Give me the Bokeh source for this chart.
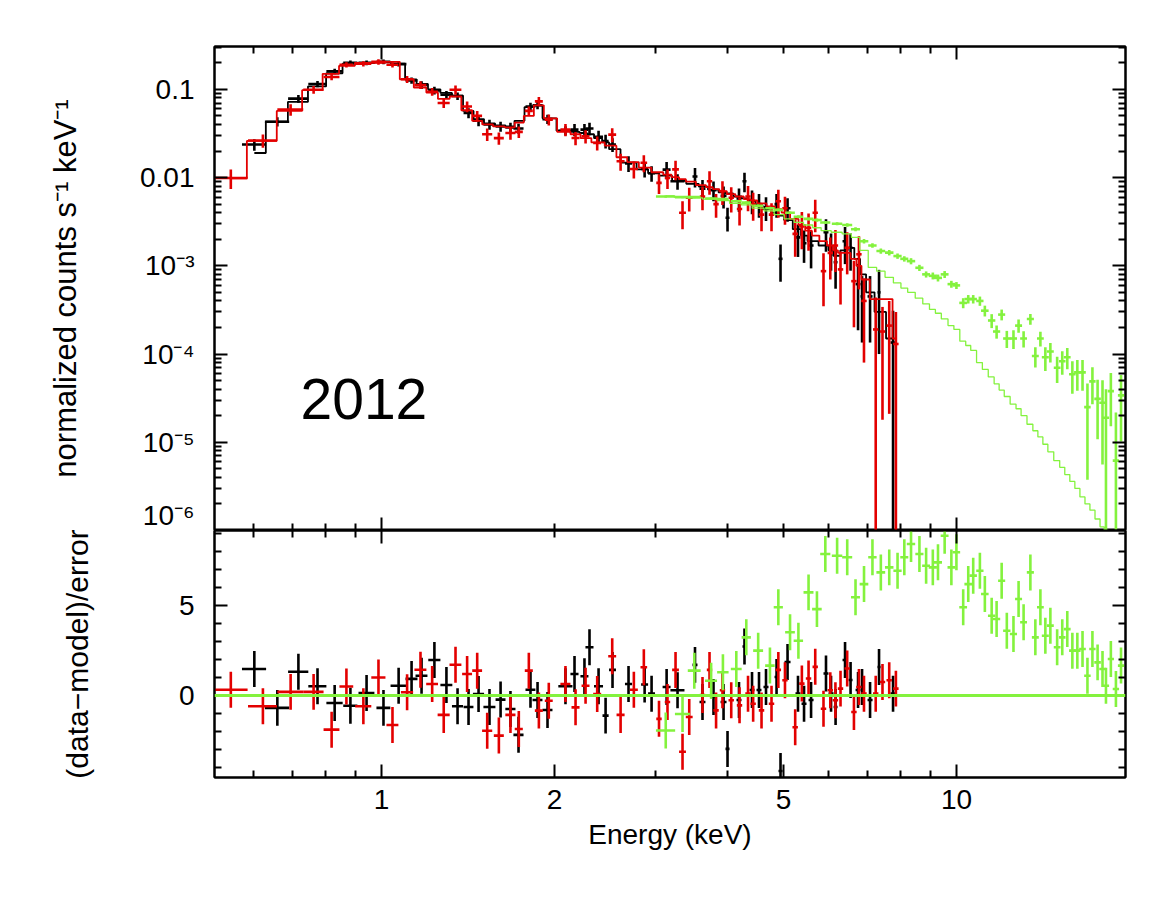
import numpy as np
from bokeh.plotting import figure
from bokeh.models import (Range1d, LogAxis, LinearAxis, FixedTicker, Span,
                          ColumnDataSource)
from bokeh.layouts import column
from bokeh.embed import file_html
from bokeh.resources import INLINE
from bokeh.core.properties import value

# ---------------- axis limits / ticks ----------------
X_MIN, X_MAX = 0.5124, 19.67
TOP_Y_MIN, TOP_Y_MAX = 1e-6, 0.306
RES_MIN, RES_MAX = -4.56, 9.17

X_MAJOR = [1, 2, 5, 10]
X_LABELS = ["1", "2", "5", "10"]
X_MINOR = [0.6, 0.7, 0.8, 0.9, 3, 4, 6, 7, 8, 9]
X_DECADES = [1, 10]
X_SUBTICKS = [0.6, 0.7, 0.8, 0.9, 2, 3, 4, 5, 6, 7, 8, 9]
Y_MAJOR = [1e-6, 1e-5, 1e-4, 1e-3, 1e-2, 1e-1]
Y_LABELS = ["10\u207b\u2076", "10\u207b\u2075", "10\u207b\u2074", "10\u207b\u00b3", "0.01", "0.1"]
Y_MINOR = [k * 10.0 ** n for n in range(-6, 0) for k in range(2, 10) if k * 10.0 ** n <= TOP_Y_MAX]
R_MAJOR = [0, 5]
R_LABELS = ["0", "5"]
R_MINOR = [-4, -3, -2, -1, 1, 2, 3, 4, 6, 7, 8, 9]

TITLE_Y = "normalized counts s\u207b\u00b9 keV\u207b\u00b9"
TITLE_R = "(data\u2212model)/error"
TITLE_X = "Energy (keV)"
YEAR_TEXT = "2012"
YEAR_POS = (0.723, 3.1e-5)

# ---------------- black data set ----------------
BLACK_E = [0.601, 0.659, 0.717, 0.774, 0.829, 0.883, 0.942, 1.008, 1.071, 1.128,
           1.174, 1.236, 1.297, 1.356, 1.417, 1.475, 1.541, 1.611, 1.676, 1.731,
           1.816, 1.868, 1.944, 2.089, 2.166, 2.254, 2.300, 2.385, 2.453, 2.522,
           2.689, 2.868, 2.949, 3.132, 3.272, 3.509, 3.616, 3.779, 3.934, 3.997,
           4.185, 4.278, 4.409, 4.534, 4.663, 4.864, 4.942, 5.083, 5.300, 5.430,
           5.585, 5.929, 6.050, 6.161, 6.399, 6.542, 6.741, 6.850, 7.073, 7.332, 7.755]
BLACK_DE = [0.029, 0.032, 0.029, 0.028, 0.027, 0.025, 0.030, 0.028, 0.034, 0.027,
            0.028, 0.030, 0.031, 0.030, 0.028, 0.033, 0.037, 0.032, 0.034, 0.035,
            0.036, 0.037, 0.039, 0.059, 0.035, 0.036, 0.037, 0.043, 0.030, 0.035,
            0.038, 0.040, 0.041, 0.050, 0.092, 0.035, 0.043, 0.045, 0.047, 0.032,
            0.042, 0.034, 0.044, 0.045, 0.047, 0.039, 0.040, 0.061, 0.053, 0.054,
            0.056, 0.059, 0.061, 0.049, 0.064, 0.052, 0.067, 0.041, 0.071, 0.044, 0.078]
BLACK_FLUX = [0.0237, 0.043, 0.0785, 0.115, 0.160, 0.200, 0.200, 0.205, 0.193, 0.126,
              0.112, 0.097, 0.087, 0.084, 0.054, 0.044, 0.040, 0.038, 0.037, 0.036,
              0.064, 0.066, 0.046, 0.034, 0.035, 0.035, 0.036, 0.029, 0.026, 0.0237,
              0.0145, 0.0125, 0.0112, 0.0123, 0.0091, 0.0103, 0.0075, 0.0072, 0.0062, 0.0035,
              0.0058, 0.0091, 0.0055, 0.0050, 0.0046, 0.0050, 0.0012, 0.0045, 0.0021, 0.0018,
              0.0017, 0.0024, 0.0016, 0.0011, 0.0019, 0.0016, 0.00062, 0.00045, 0.00045, 0.0005, 0.000135]
BLACK_REL = [0.15, 0.12, 0.10, 0.08, 0.07, 0.06, 0.06, 0.06, 0.06, 0.08,
             0.10, 0.10, 0.10, 0.10, 0.13, 0.13, 0.13, 0.13, 0.13, 0.13,
             0.10, 0.10, 0.12, 0.12, 0.16, 0.16, 0.16, 0.17, 0.18, 0.18,
             0.20, 0.20, 0.20, 0.22, 0.20, 0.25, 0.25, 0.25, 0.28, 0.30,
             0.30, 0.25, 0.30, 0.30, 0.30, 0.30, 0.45, 0.30, 0.40, 0.40,
             0.45, 0.40, 0.45, 0.50, 0.45, 0.45, 0.70, 0.70, 0.70, 0.80, 1.30]
BLACK_MODEL = [0.019, 0.043, 0.072, 0.108, 0.152, 0.195, 0.200, 0.205, 0.195, 0.130,
               0.115, 0.100, 0.091, 0.085, 0.057, 0.046, 0.041, 0.039, 0.038, 0.044,
               0.063, 0.066, 0.047, 0.034, 0.033, 0.032, 0.031, 0.028, 0.025, 0.021,
               0.0148, 0.0124, 0.0112, 0.0105, 0.0092, 0.0085, 0.0079, 0.0073, 0.0068, 0.0066,
               0.0061, 0.0058, 0.0054, 0.0049, 0.0044, 0.0040, 0.0037, 0.0033, 0.0026, 0.0022,
               0.0019, 0.0017, 0.0015, 0.0013, 0.0015, 0.0016, 0.0012, 0.0008, 0.0005, 0.0003, 0.00015]
BLACK_RES = [1.47, -0.69, 1.32, 0.51, -0.42, -0.57, 0.14, -0.69, 0.54, 0.92,
             1.10, 1.97, 0.58, -0.60, -0.64, 0.08, -0.64, -0.23, -0.75, -2.19,
             0.32, -0.25, -0.81, 0.51, 1.19, 1.07, 2.68, 0.51, -1.12, 1.42,
             0.64, 0.61, 0.10, 0.47, 0.29, 1.70, -0.36, -0.08, -0.36, -2.97,
             -0.25, 2.72, 0.30, 0.30, 0.47, 1.03, -4.20, 1.86, 0.10, -0.46,
             -0.25, 1.22, 0.10, -0.64, 1.97, 0.86, 0.30, 0.47, -0.25, 1.58, 0.10]

# ---------------- red data set ----------------
RED_E = [0.547, 0.622, 0.695, 0.762, 0.819, 0.869, 0.930, 0.988, 1.045, 1.108,
         1.169, 1.225, 1.283, 1.345, 1.409, 1.467, 1.527, 1.600, 1.676, 1.733,
         1.804, 1.878, 1.954, 2.089, 2.175, 2.264, 2.372, 2.519, 2.605, 2.747,
         2.859, 3.038, 3.143, 3.246, 3.338, 3.429, 3.616, 3.719, 3.818, 3.917,
         4.057, 4.194, 4.339, 4.429, 4.580, 4.767, 4.899, 5.031, 5.241, 5.383,
         5.529, 5.679, 5.870, 6.032, 6.157, 6.284, 6.454, 6.631, 6.765, 6.903,
         7.235, 7.434, 7.637, 7.844]
RED_DE = [0.038, 0.036, 0.036, 0.031, 0.026, 0.024, 0.030, 0.028, 0.025, 0.027,
          0.028, 0.029, 0.031, 0.032, 0.028, 0.029, 0.031, 0.032, 0.034, 0.028,
          0.029, 0.030, 0.031, 0.042, 0.035, 0.036, 0.038, 0.040, 0.042, 0.044,
          0.038, 0.033, 0.034, 0.044, 0.046, 0.047, 0.039, 0.040, 0.041, 0.042,
          0.044, 0.045, 0.047, 0.048, 0.050, 0.052, 0.053, 0.054, 0.057, 0.058,
          0.060, 0.061, 0.064, 0.065, 0.067, 0.068, 0.070, 0.072, 0.073, 0.075,
          0.078, 0.080, 0.083, 0.085]
RED_FLUX = [0.0099, 0.0263, 0.059, 0.099, 0.138, 0.190, 0.195, 0.205, 0.190, 0.130,
            0.112, 0.094, 0.070, 0.099, 0.064, 0.050, 0.031, 0.028, 0.032, 0.033,
            0.057, 0.073, 0.0454, 0.035, 0.0281, 0.0294, 0.0247, 0.0307, 0.0153, 0.0125,
            0.0147, 0.0087, 0.0099, 0.0124, 0.0040, 0.0059, 0.0061, 0.0091, 0.0050, 0.0070,
            0.0059, 0.0044, 0.0061, 0.0050, 0.0038, 0.0038, 0.0054, 0.0045, 0.0023, 0.0028,
            0.0027, 0.0040, 0.00087, 0.0014, 0.0017, 0.00091, 0.0016, 0.00067, 0.00135, 0.00040,
            0.00019, 0.00018, 0.00021, 0.00013]
RED_REL = [0.25, 0.17, 0.15, 0.10, 0.08, 0.07, 0.07, 0.07, 0.07, 0.09,
           0.10, 0.10, 0.12, 0.12, 0.14, 0.14, 0.16, 0.16, 0.16, 0.15,
           0.12, 0.12, 0.14, 0.16, 0.17, 0.17, 0.18, 0.18, 0.22, 0.22,
           0.22, 0.25, 0.25, 0.25, 0.35, 0.30, 0.30, 0.30, 0.30, 0.30,
           0.32, 0.35, 0.32, 0.35, 0.35, 0.35, 0.35, 0.35, 0.45, 0.45,
           0.45, 0.40, 0.60, 0.50, 0.50, 0.60, 0.50, 0.70, 0.60, 0.80,
           1.30, 0.90, 0.90, 1.30]
RED_MODEL = [0.0098, 0.026, 0.057, 0.098, 0.150, 0.185, 0.200, 0.200, 0.205, 0.130,
             0.105, 0.092, 0.078, 0.083, 0.058, 0.044, 0.040, 0.038, 0.037, 0.042,
             0.050, 0.066, 0.047, 0.033, 0.031, 0.028, 0.025, 0.023, 0.017, 0.015,
             0.013, 0.0115, 0.0108, 0.0101, 0.0096, 0.0090, 0.0082, 0.0078, 0.0074, 0.0070,
             0.0065, 0.0061, 0.0057, 0.0055, 0.0051, 0.0047, 0.0044, 0.0040, 0.0034, 0.0029,
             0.0025, 0.0022, 0.0019, 0.0017, 0.0015, 0.0014, 0.0014, 0.0012, 0.0010, 0.0007,
             0.00042, 0.00042, 0.00042, 0.00015]
RED_RES = [0.32, -0.60, 0.20, 0.20, -1.90, 0.50, -0.60, 1.00, -1.64, 0.18,
           1.43, 0.64, -1.08, 1.71, 1.19, 1.38, -1.96, -2.23, -1.08, -1.86,
           1.38, -0.84, -0.29, 0.64, -0.66, 0.54, 0.08, 2.18, -1.08, 0.32,
           1.57, -1.30, -0.36, 1.42, -3.13, -1.20, 0.03, 1.42, -0.83, 0.29,
           -0.27, -0.55, 0.10, -0.46, -0.83, -0.46, 1.42, 0.85, -1.77, 0.66,
           0.94, 1.59, -0.74, 0.29, -0.27, 0.38, 1.50, -0.92, 0.47, 0.10,
           0.10, 0.75, 0.85, 0.38]

# ---------------- green data set ----------------
GREEN_E = [3.121, 3.338, 3.499, 3.743, 3.924, 4.140, 4.309, 4.519, 4.737, 4.899,
           5.134, 5.309, 5.529, 5.718, 5.913, 6.199, 6.455, 6.673, 6.904, 7.141,
           7.385, 7.638, 7.896, 8.113, 8.334, 8.619, 8.853, 9.094, 9.284, 9.535,
           9.795, 9.995, 10.27, 10.48, 10.69, 10.98, 11.20, 11.51, 11.74, 11.98,
           12.23, 12.56, 12.82, 13.08, 13.44, 13.71, 13.99, 14.27, 14.56, 14.96,
           15.27, 15.58, 15.90, 16.22, 16.56, 16.89, 17.23, 17.59, 17.94, 18.19,
           18.55, 18.93, 19.32]
GREEN_DE = [0.12, 0.10, 0.09, 0.09, 0.09, 0.09, 0.08, 0.09, 0.09, 0.09,
            0.10, 0.10, 0.11, 0.11, 0.12, 0.13, 0.13, 0.12, 0.12, 0.12,
            0.13, 0.13, 0.13, 0.13, 0.14, 0.14, 0.14, 0.15, 0.15, 0.15,
            0.15, 0.15, 0.16, 0.16, 0.16, 0.16, 0.17, 0.17, 0.17, 0.17,
            0.18, 0.18, 0.18, 0.18, 0.19, 0.19, 0.19, 0.20, 0.20, 0.20,
            0.20, 0.21, 0.21, 0.21, 0.22, 0.22, 0.22, 0.23, 0.23, 0.23,
            0.23, 0.24, 0.24]
GREEN_FLUX = [0.0061, 0.0060, 0.0060, 0.0058, 0.0057, 0.0054, 0.0052, 0.0048, 0.0045, 0.0043,
              0.0040, 0.0036, 0.0034, 0.0033, 0.0031, 0.0030, 0.0029, 0.0026, 0.0019, 0.0017,
              0.00147, 0.00141, 0.00129, 0.00120, 0.00113, 0.00095, 0.00080, 0.00077, 0.00073, 0.00080,
              0.00062, 0.00060, 0.00038, 0.00042, 0.00042, 0.00040, 0.00031, 0.00024, 0.00018, 0.00028,
              0.00015, 0.00015, 0.00021, 0.00015, 0.00025, 0.000095, 0.00015, 0.000092, 0.000107, 0.000070,
              0.000083, 0.000092, 0.000059, 0.000062, 0.000062, 0.000025, 0.000049, 0.000031, 0.000028, 0.000019,
              0.000038, 0.0000062, 0.000034]
GREEN_REL = [0.03, 0.03, 0.03, 0.03, 0.03, 0.03, 0.03, 0.035, 0.035, 0.035,
             0.035, 0.04, 0.04, 0.04, 0.04, 0.04, 0.045, 0.05, 0.06, 0.06,
             0.07, 0.07, 0.07, 0.07, 0.08, 0.08, 0.08, 0.09, 0.09, 0.09,
             0.09, 0.09, 0.13, 0.11, 0.11, 0.12, 0.14, 0.18, 0.17, 0.14,
             0.22, 0.24, 0.17, 0.21, 0.14, 0.26, 0.19, 0.30, 0.25, 0.33,
             0.30, 0.27, 0.40, 0.38, 0.38, 0.85, 0.45, 0.65, 0.80, 1.10,
             0.60, 2.50, 0.70]
GREEN_MODEL = [0.0062, 0.0060, 0.0059, 0.0057, 0.0055, 0.0051, 0.0049, 0.0045, 0.0042, 0.0038,
               0.0034, 0.0031, 0.0029, 0.0027, 0.0025, 0.0024, 0.0023, 0.0021, 0.0015, 0.00096,
               0.00087, 0.00074, 0.00064, 0.00056, 0.00050, 0.00043, 0.00037, 0.00032, 0.00029, 0.00025,
               0.00021, 0.00019, 0.00014, 0.000125, 0.00011, 0.000080, 0.000067, 0.000055, 0.000046, 0.000039,
               0.000033, 0.000027, 0.000024, 0.000020, 0.000016, 0.0000135, 0.0000115, 0.0000095, 0.0000078, 0.0000062,
               0.0000052, 0.0000043, 0.0000036, 0.0000030, 0.0000024, 0.0000020, 0.0000017, 0.00000135, 0.0000011, 0.0000010,
               0.0000008, 0.00000065, 0.0000005]
GREEN_RES = [-1.95, -1.03, 1.38, 0.82, 1.29, 1.47, 3.23, 2.49, 1.66, 4.90,
             3.51, 3.04, 5.73, 4.80, 7.86, 7.77, 7.68, 5.46, 6.19, 7.68,
             6.84, 7.12, 6.93, 7.68, 8.42, 7.86, 7.21, 7.12, 7.40, 8.88,
             7.12, 7.96, 4.90, 6.19, 6.66, 6.93, 5.64, 4.43, 4.25, 6.38,
             3.60, 3.42, 5.36, 4.07, 6.84, 3.23, 4.90, 3.32, 3.88, 2.68,
             3.23, 3.69, 2.49, 2.49, 2.58, 1.10, 2.58, 1.84, 1.47, 0.54,
             2.03, 0.36, 1.66]
RES_ERR = 1.0  # residuals are in units of sigma

# ---------------- styling ----------------
FONT = "Liberation Sans"
C_BLACK = "#000000"
C_RED = "#e30000"
C_GREEN = "#84f23e"
FRAME_W = 911
TOP_H = 484
BOT_H = 247
LEFT_B = 214
RIGHT_B = 20


def style_axis(ax, labels=None, label_size="28px"):
    ax.axis_line_color = "black"
    ax.axis_line_width = 2
    ax.major_tick_line_color = "black"
    ax.major_tick_line_width = 2
    ax.minor_tick_line_color = "black"
    ax.minor_tick_line_width = 2
    ax.major_tick_in = 13
    ax.major_tick_out = 0
    ax.minor_tick_in = 7
    ax.minor_tick_out = 0
    ax.major_label_text_font = FONT
    ax.major_label_text_color = "black"
    ax.axis_label_text_font = FONT
    ax.axis_label_text_font_style = "normal"
    ax.axis_label_text_font_size = label_size
    ax.axis_label_text_color = "black"
    if labels is not None:
        ax.major_label_text_font_size = "28px"
        ax.major_label_overrides = labels
    else:
        ax.major_label_text_font_size = "1px"
        ax.major_label_text_alpha = 0
        ax.major_label_standoff = 0


def blank(ticks):
    return {t: "" for t in ticks}


def base_fig(y_type, y_range, frame_h, border_top, border_bottom):
    p = figure(x_axis_type="log", y_axis_type=y_type, x_range=XR, y_range=y_range,
               frame_width=FRAME_W, frame_height=frame_h,
               min_border_left=LEFT_B, min_border_right=RIGHT_B,
               min_border_top=border_top, min_border_bottom=border_bottom,
               x_axis_location=None, y_axis_location=None,
               output_backend="svg", toolbar_location=None)
    p.outline_line_color = "black"
    p.outline_line_width = 2
    for g in p.grid:
        g.visible = False
    return p


def plain_x_axis(p, place):
    ax = LogAxis(ticker=FixedTicker(ticks=X_DECADES, minor_ticks=X_SUBTICKS))
    style_axis(ax)
    ax.major_label_overrides = blank(X_DECADES)
    p.add_layout(ax, place)


def add_spectrum(p, E, dE, flux, rel, model, color, model_w):
    E = np.array(E); dE = np.array(dE); f = np.array(flux)
    err = f * np.array(rel)
    src = ColumnDataSource(dict(x=E, x0=E - dE, x1=E + dE, y=f,
                                lo=np.maximum(f - err, 1e-9), hi=f + err))
    p.step(E, model, mode="center", line_color=color, line_width=model_w)
    p.segment("x0", "y", "x1", "y", source=src, line_color=color, line_width=2.6)
    p.segment("x", "lo", "x", "hi", source=src, line_color=color, line_width=2.6)


def add_resid(p, E, dE, res, color):
    E = np.array(E); dE = np.array(dE); r = np.array(res)
    src = ColumnDataSource(dict(x=E, x0=E - dE, x1=E + dE, y=r,
                                lo=r - RES_ERR, hi=r + RES_ERR))
    p.segment("x0", "y", "x1", "y", source=src, line_color=color, line_width=2.6)
    p.segment("x", "lo", "x", "hi", source=src, line_color=color, line_width=2.6)


XR = Range1d(X_MIN, X_MAX)

# ---------------- top panel ----------------
top = base_fig("log", Range1d(TOP_Y_MIN, TOP_Y_MAX), TOP_H, 46, 0)

yl = LogAxis(ticker=FixedTicker(ticks=Y_MAJOR, minor_ticks=Y_MINOR), axis_label=TITLE_Y)
style_axis(yl, dict(zip(Y_MAJOR, Y_LABELS)), "31px")
yl.major_label_standoff = 20
yl.axis_label_standoff = 54
top.add_layout(yl, "left")
yr = LogAxis(ticker=FixedTicker(ticks=Y_MAJOR, minor_ticks=Y_MINOR))
style_axis(yr); yr.major_label_overrides = blank(Y_MAJOR)
top.add_layout(yr, "right")
plain_x_axis(top, "above")
plain_x_axis(top, "below")

add_spectrum(top, BLACK_E, BLACK_DE, BLACK_FLUX, BLACK_REL, BLACK_MODEL, C_BLACK, 1.8)
add_spectrum(top, RED_E, RED_DE, RED_FLUX, RED_REL, RED_MODEL, C_RED, 1.8)
add_spectrum(top, GREEN_E, GREEN_DE, GREEN_FLUX, GREEN_REL, GREEN_MODEL, C_GREEN, 1.3)

top.text(x=[YEAR_POS[0]], y=[YEAR_POS[1]], text=[YEAR_TEXT], text_font=value(FONT),
         text_font_size="57px", text_color="black", text_align="left",
         text_baseline="middle")

# ---------------- residual panel ----------------
bot = base_fig("linear", Range1d(RES_MIN, RES_MAX), BOT_H, 0, 80)
rl = LinearAxis(ticker=FixedTicker(ticks=R_MAJOR, minor_ticks=R_MINOR), axis_label=TITLE_R)
style_axis(rl, dict(zip(R_MAJOR, R_LABELS)), "30px")
rl.major_label_standoff = 20
rl.axis_label_standoff = 82
bot.add_layout(rl, "left")
rr = LinearAxis(ticker=FixedTicker(ticks=R_MAJOR, minor_ticks=R_MINOR))
style_axis(rr); rr.major_label_overrides = blank(R_MAJOR)
bot.add_layout(rr, "right")
plain_x_axis(bot, "above")
rb = LogAxis(ticker=FixedTicker(ticks=X_MAJOR, minor_ticks=X_MINOR), axis_label=TITLE_X)
style_axis(rb, dict(zip(X_MAJOR, X_LABELS)), "28px")
rb.major_label_standoff = 12
rb.axis_label_standoff = 7
bot.add_layout(rb, "below")

add_resid(bot, BLACK_E, BLACK_DE, BLACK_RES, C_BLACK)
add_resid(bot, RED_E, RED_DE, RED_RES, C_RED)
add_resid(bot, GREEN_E, GREEN_DE, GREEN_RES, C_GREEN)
bot.add_layout(Span(location=0, dimension="width", line_color=C_GREEN, line_width=3))

layout = column(top, bot, spacing=0)
open("out.html", "w").write(file_html(layout, INLINE))
